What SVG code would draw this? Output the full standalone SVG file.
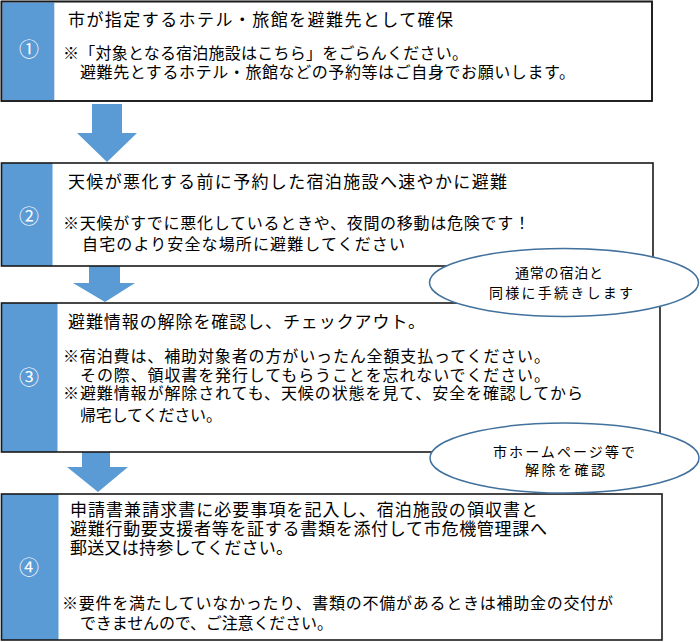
<svg xmlns="http://www.w3.org/2000/svg" width="700" height="642" viewBox="0 0 700 642">
<style>
.box{fill:#ffffff;stroke:#1a1a1a;stroke-width:1.6}
.bar{fill:#5b9bd5}
.num{font-family:"Liberation Sans","Noto Sans CJK JP",sans-serif;font-size:20px;fill:#ffffff;text-anchor:middle}
.t{font-family:"Noto Sans CJK JP","Noto Sans CJK SC",sans-serif;font-size:17px;fill:#000000}
.n{font-family:"Noto Sans CJK JP","Noto Sans CJK SC",sans-serif;font-size:16px;fill:#000000}
.e{fill:#ffffff;stroke:#41719c;stroke-width:1.5}
.et{font-family:"Noto Sans CJK JP","Noto Sans CJK SC",sans-serif;font-size:14px;fill:#000000}
.arr{fill:#5b9bd5}
</style>
<rect width="700" height="642" fill="#ffffff"/>
<g id="connectors">
<polygon class="arr" points="92,104 122,104 122,133 137,133 107,162 77,133 92,133"/>
<polygon class="arr" points="89,266 120,266 120,283 135,283 105,302 73,283 89,283"/>
<polygon class="arr" points="82,452 110,452 110,467 128,467 98,492 67,467 82,467"/>
</g>
<g id="step1">
<rect class="box" x="1.5" y="1.5" width="650.5" height="99.5"/>
<rect class="bar" x="2.3" y="2.3" width="52" height="98"/>
<rect x="1.5" y="1.5" width="650.5" height="99.5" fill="none" stroke="#1a1a1a" stroke-width="1.6"/>
<text class="num" x="29" y="57">①</text>
<text class="t" x="68" y="26" textLength="385" lengthAdjust="spacing">市が指定するホテル・旅館を避難先として確保</text>
<text class="n" x="63" y="59" textLength="405" lengthAdjust="spacing">※「対象となる宿泊施設はこちら」をごらんください。</text>
<text class="n" x="80" y="78" textLength="495" lengthAdjust="spacing">避難先とするホテル・旅館などの予約等はご自身でお願いします。</text>
</g>
<g id="step2">
<rect class="bar" x="1.5" y="163" width="51" height="103"/>
<rect x="1.5" y="163" width="651.5" height="103" fill="none" stroke="#1a1a1a" stroke-width="1.6"/>
<text class="num" x="29" y="224">②</text>
<text class="t" x="68" y="188" textLength="439" lengthAdjust="spacing">天候が悪化する前に予約した宿泊施設へ速やかに避難</text>
<text class="n" x="63" y="229" textLength="467" lengthAdjust="spacing">※天候がすでに悪化しているときや、夜間の移動は危険です！</text>
<text class="n" x="82" y="250" textLength="323" lengthAdjust="spacing">自宅のより安全な場所に避難してください</text>
</g>
<g id="step3">
<rect class="bar" x="1.5" y="303" width="56" height="149"/>
<rect x="1.5" y="303" width="658.5" height="149" fill="none" stroke="#1a1a1a" stroke-width="1.6"/>
<text class="num" x="29" y="385">③</text>
<text class="t" x="68" y="328" textLength="357" lengthAdjust="spacing">避難情報の解除を確認し、チェックアウト。</text>
<text class="n" x="63" y="362" textLength="487" lengthAdjust="spacing">※宿泊費は、補助対象者の方がいったん全額支払ってください。</text>
<text class="n" x="80" y="381" textLength="470" lengthAdjust="spacing">その際、領収書を発行してもらうことを忘れないでください。</text>
<text class="n" x="63" y="399" textLength="520" lengthAdjust="spacing">※避難情報が解除されても、天候の状態を見て、安全を確認してから</text>
<text class="n" x="80" y="421" textLength="142" lengthAdjust="spacing">帰宅してください。</text>
</g>
<g id="step4">
<rect class="bar" x="1.5" y="494" width="57" height="146"/>
<rect x="1.5" y="494" width="660.5" height="146" fill="none" stroke="#1a1a1a" stroke-width="1.6"/>
<text class="num" x="29" y="575">④</text>
<text class="t" x="70" y="516" textLength="468" lengthAdjust="spacing">申請書兼請求書に必要事項を記入し、宿泊施設の領収書と</text>
<text class="t" x="70" y="535" textLength="477" lengthAdjust="spacing">避難行動要支援者等を証する書類を添付して市危機管理課へ</text>
<text class="t" x="70" y="554" textLength="223" lengthAdjust="spacing">郵送又は持参してください。</text>
<text class="n" x="62" y="609" textLength="551" lengthAdjust="spacing">※要件を満たしていなかったり、書類の不備があるときは補助金の交付が</text>
<text class="n" x="80" y="629" textLength="253" lengthAdjust="spacing">できませんので、ご注意ください。</text>
</g>
<g id="note1">
<ellipse class="e" cx="564" cy="282.5" rx="134.5" ry="34"/>
<text class="et" x="515" y="278" textLength="88" lengthAdjust="spacing">通常の宿泊と</text>
<text class="et" x="489" y="298" textLength="144" lengthAdjust="spacing">同様に手続きします</text>
</g>
<g id="note2">
<ellipse class="e" cx="564.5" cy="458" rx="134.5" ry="35"/>
<text class="et" x="493" y="457" textLength="142" lengthAdjust="spacing">市ホームページ等で</text>
<text class="et" x="525" y="475" textLength="80" lengthAdjust="spacing">解除を確認</text>
</g>
</svg>
